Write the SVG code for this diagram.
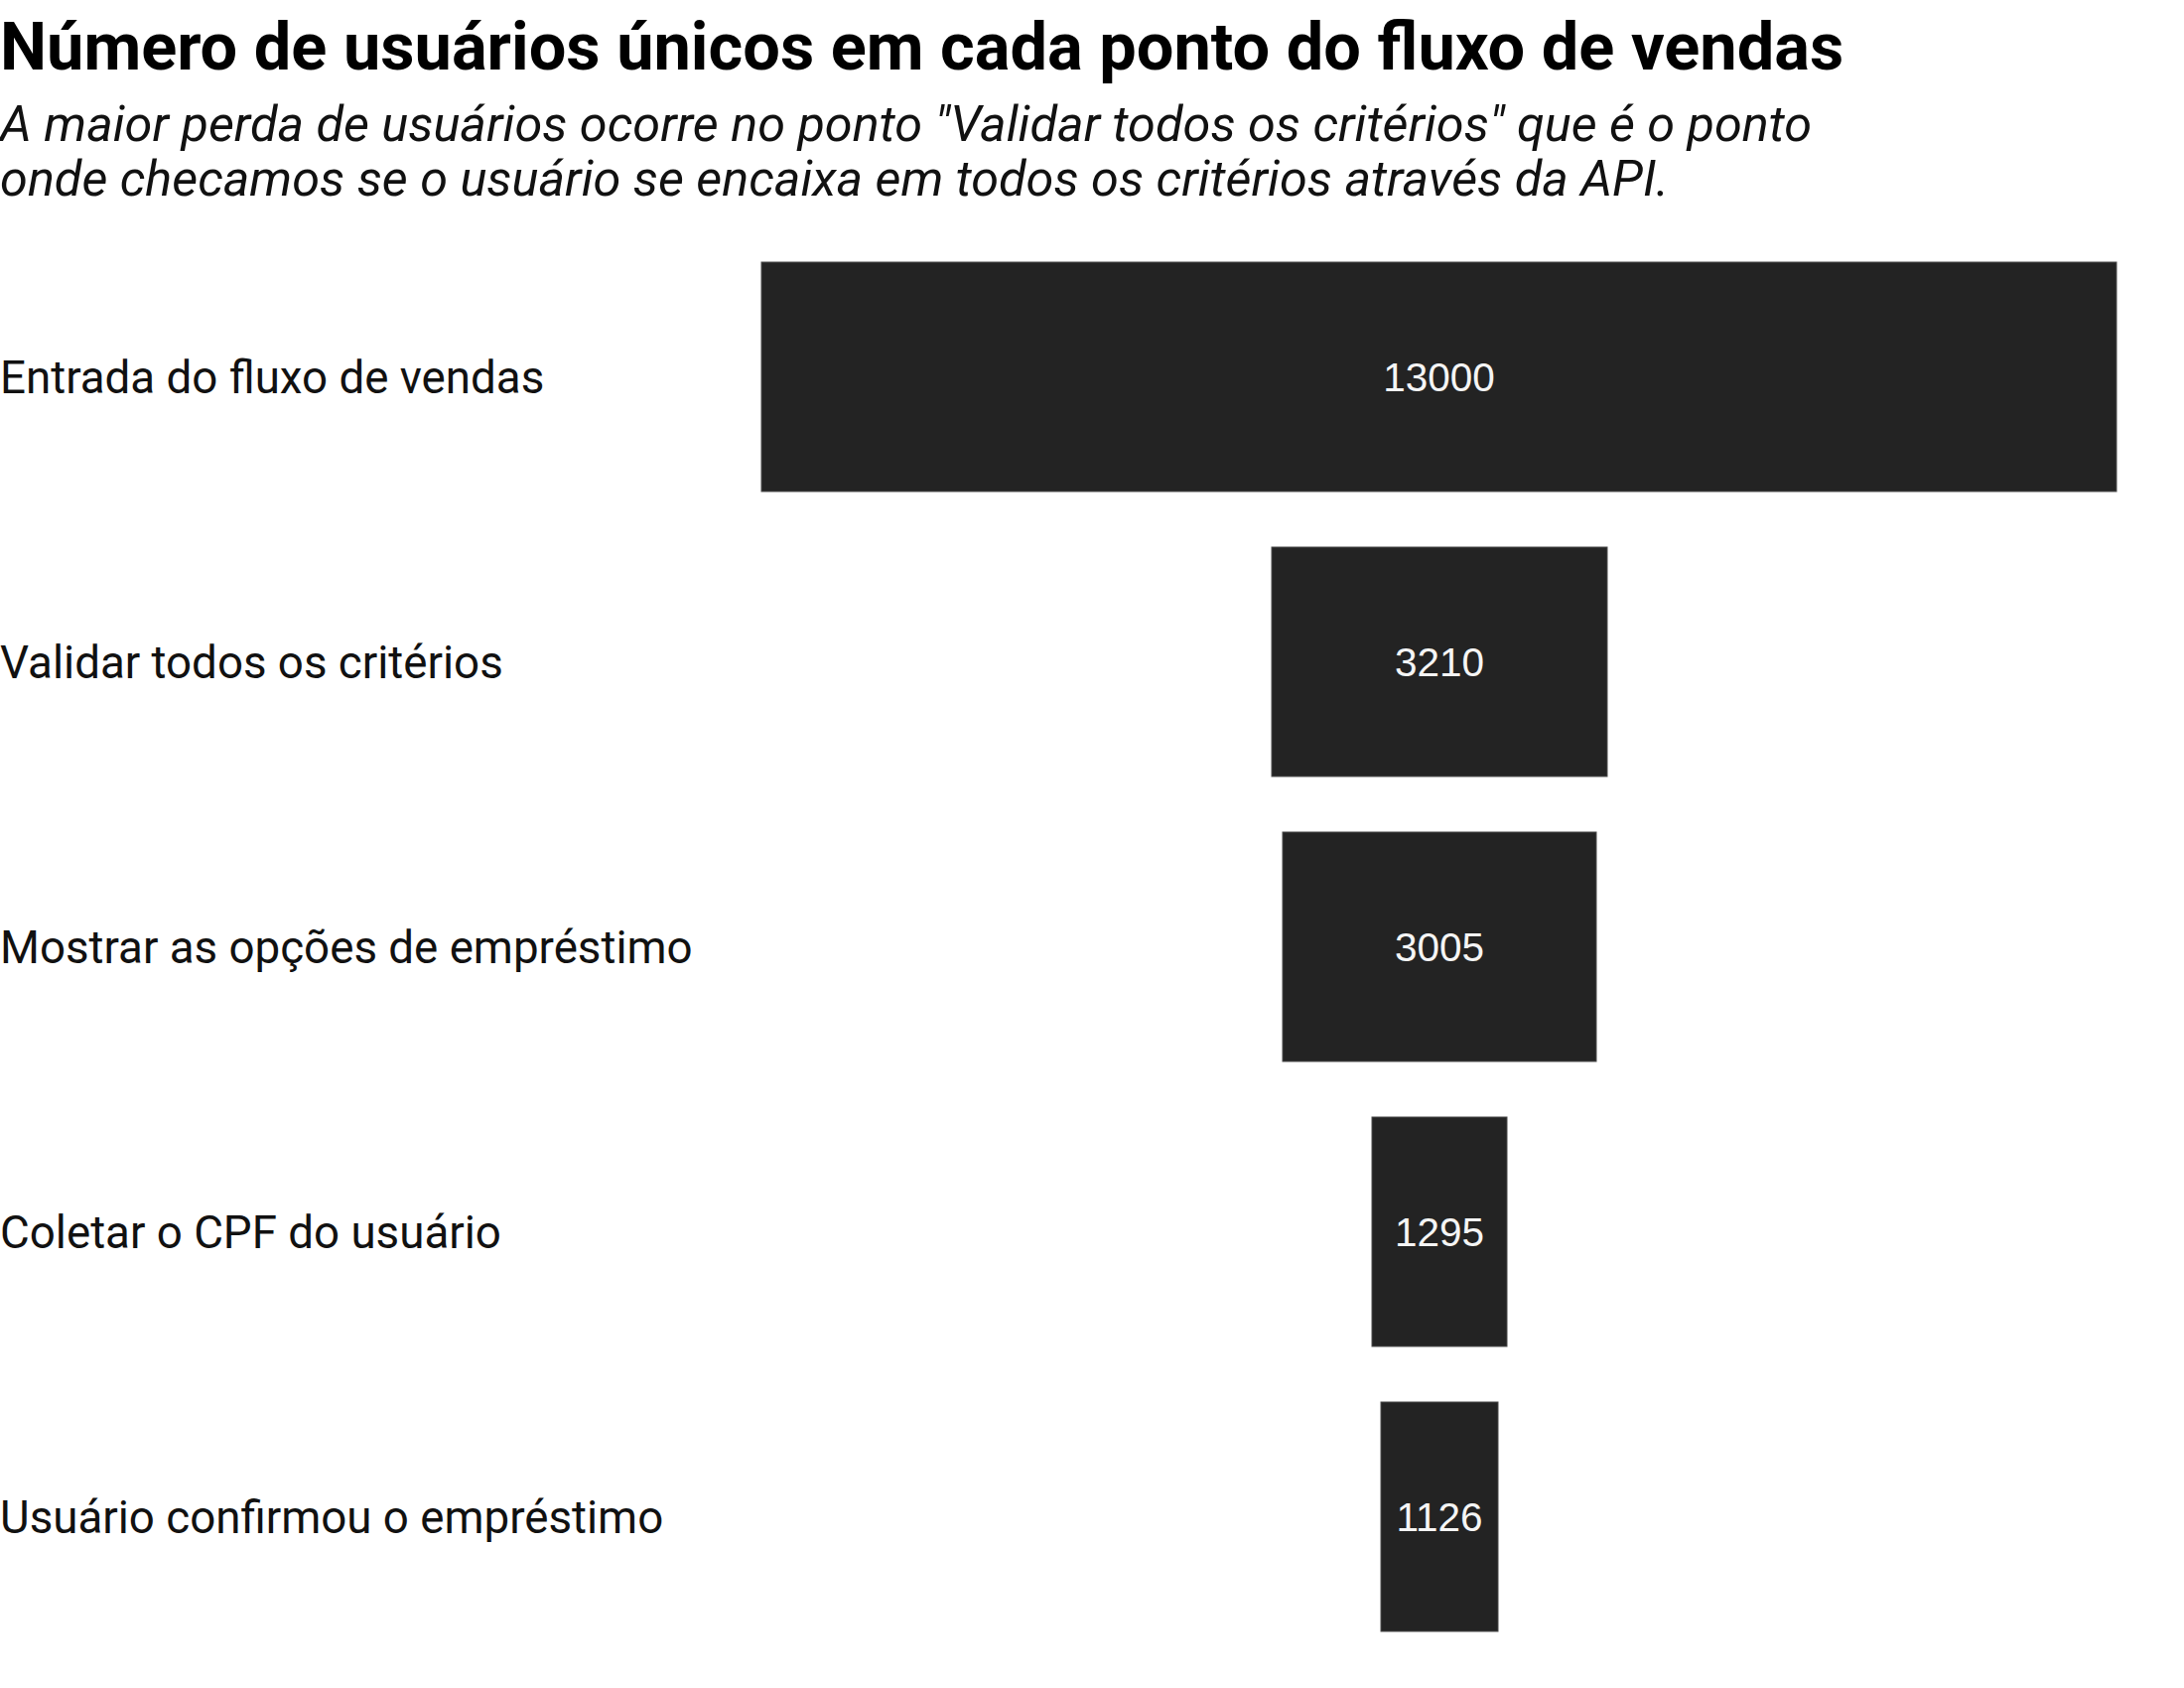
<svg xmlns="http://www.w3.org/2000/svg" width="2200" height="1700" viewBox="0 0 2200 1700">
<style>
.title{font-family:Roboto,"Liberation Sans",sans-serif;font-weight:700;font-size:66.7px;fill:#000}
.sub{font-family:Roboto,"Liberation Sans",sans-serif;font-style:italic;font-size:50.4px;fill:#111}
.lab{font-family:Roboto,"Liberation Sans",sans-serif;font-size:45.7px;fill:#111}
.bar{fill:#232323;stroke:#4a4a4a;stroke-width:1}
.val{font-family:"Liberation Sans",Arial,sans-serif;font-size:40.5px;fill:#f5f5f5;text-anchor:middle}
</style>
<rect x="0" y="0" width="2200" height="1700" fill="#ffffff"/>
<g id="header">
<text class="title" x="0" y="70">Número de usuários únicos em cada ponto do fluxo de vendas</text>
<text class="sub" x="0" y="142">A maior perda de usuários ocorre no ponto "Validar todos os critérios" que é o ponto</text>
<text class="sub" x="0" y="197">onde checamos se o usuário se encaixa em todos os critérios através da API.</text>
</g>
<g id="labels">
<text class="lab" x="0" y="395.5">Entrada do fluxo de vendas</text>
<text class="lab" x="0" y="682.5">Validar todos os critérios</text>
<text class="lab" x="0" y="969.5">Mostrar as opções de empréstimo</text>
<text class="lab" x="0" y="1256.5">Coletar o CPF do usuário</text>
<text class="lab" x="0" y="1543.5">Usuário confirmou o empréstimo</text>
</g>
<g id="node-entrada">
<rect class="bar" x="767" y="264" width="1365" height="231"/>
<text class="val" x="1449.5" y="394">13000</text>
</g>
<g id="node-validar">
<rect class="bar" x="1281" y="551" width="338" height="231"/>
<text class="val" x="1450" y="681">3210</text>
</g>
<g id="node-mostrar">
<rect class="bar" x="1292" y="838" width="316" height="231"/>
<text class="val" x="1450" y="968">3005</text>
</g>
<g id="node-coletar">
<rect class="bar" x="1382" y="1125" width="136" height="231"/>
<text class="val" x="1450" y="1255">1295</text>
</g>
<g id="node-confirmou">
<rect class="bar" x="1391" y="1412" width="118" height="231"/>
<text class="val" x="1450" y="1542">1126</text>
</g>
<g id="connectors"></g>
</svg>
